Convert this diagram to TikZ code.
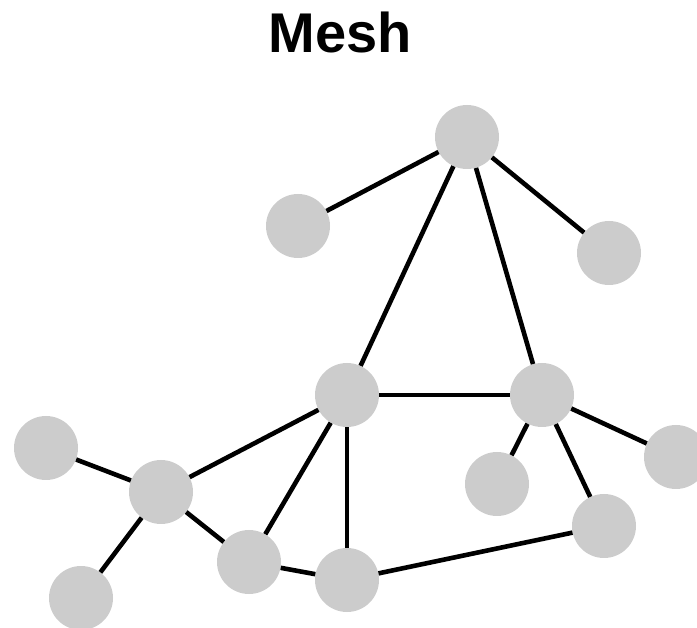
\documentclass[tikz,border=0pt]{standalone}
\usepackage{fontspec}
\setmainfont{Liberation Sans}
\begin{document}
\begin{tikzpicture}[x=1pt,y=-1pt,
  vtx/.style={circle,fill=black!20,draw=none,minimum size=64pt,inner sep=0pt},
  lnk/.style={line width=4.6pt,black}]
\useasboundingbox (0,0) rectangle (697,628);
\node[anchor=base,inner sep=0pt,font=\fontsize{56}{60}\selectfont\bfseries] (title) at (340,53) {Mesh};
\node[vtx] (top) at (467,137) {};
\node[vtx] (lu) at (298,226) {};
\node[vtx] (ru) at (609,253) {};
\node[vtx] (cl) at (347,395) {};
\node[vtx] (cr) at (542,395) {};
\node[vtx] (fl) at (46,448) {};
\node[vtx] (lm) at (161,492) {};
\node[vtx] (sm) at (497,484) {};
\node[vtx] (fr) at (676,457) {};
\node[vtx] (lr) at (604,526) {};
\node[vtx] (bml) at (249,562) {};
\node[vtx] (bm) at (347,580) {};
\node[vtx] (bl) at (81,598) {};
\draw[lnk] (top) -- (lu);
\draw[lnk] (top) -- (ru);
\draw[lnk] (top) -- (cl);
\draw[lnk] (top) -- (cr);
\draw[lnk] (cl) -- (cr);
\draw[lnk] (cl) -- (lm);
\draw[lnk] (cl) -- (bml);
\draw[lnk] (cl) -- (bm);
\draw[lnk] (cr) -- (sm);
\draw[lnk] (cr) -- (fr);
\draw[lnk] (cr) -- (lr);
\draw[lnk] (fl) -- (lm);
\draw[lnk] (lm) -- (bl);
\draw[lnk] (lm) -- (bml);
\draw[lnk] (bml) -- (bm);
\draw[lnk] (bm) -- (lr);
\end{tikzpicture}
\end{document}
